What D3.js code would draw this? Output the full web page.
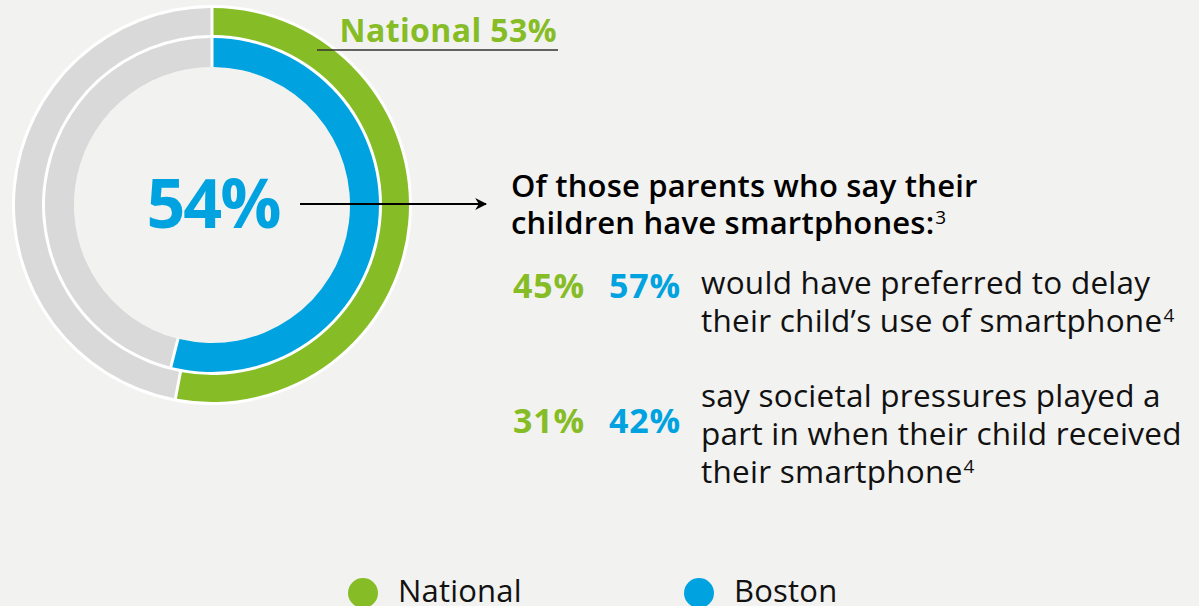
<!DOCTYPE html>
<html>
<head>
<meta charset="utf-8">
<script src="https://cdn.jsdelivr.net/npm/d3@7"></script>
<style>
  html, body { margin: 0; padding: 0; background: #f2f2f0; }
  svg { display: block; font-family: "Open Sans", sans-serif; }
</style>
</head>
<body>
<svg id="chart" width="1199" height="606"></svg>
<script>
// Share of parents whose children have smartphones
const series = ["National", "Boston"];
const shares = [53, 54];

// Follow-up findings among those parents
const statements = [
  ["would have preferred to delay", "their child\u2019s use of smartphone"],
  ["say societal pressures played a", "part in when their child received", "their smartphone"]
];
const nationalPct = [45, 31];
const bostonPct = [57, 42];
const footnotes = ["4", "4"];

const heading = ["Of those parents who say their", "children have smartphones:"];
const headingNote = "3";

const colorOf = { National: "#86bc25", Boston: "#00a3e0" };
const restColor = "#d9d9d9";

const svg = d3.select("#chart");
const cx = 212, cy = 205;

// Ring geometry: outer ring for National, inner ring for Boston
const rings = {
  National: { inner: 170, outer: 197 },
  Boston: { inner: 138, outer: 167 }
};

const g = svg.append("g").attr("transform", `translate(${cx},${cy})`);

// White backing that shows through the gaps and around the rings
g.append("path")
  .attr("d", d3.arc().innerRadius(138).outerRadius(200).startAngle(0).endAngle(2 * Math.PI)())
  .attr("fill", "#ffffff");

const pie = d3.pie().sort(null).value(d => d.v).padAngle(0.03);

series.forEach((name, i) => {
  const r = rings[name];
  const arc = d3.arc().innerRadius(r.inner).outerRadius(r.outer).padRadius(100);
  const parts = pie([{ key: name, v: shares[i] }, { key: "rest", v: 100 - shares[i] }]);
  g.selectAll(null).data(parts).enter().append("path")
    .attr("d", arc)
    .attr("fill", d => d.data.key === "rest" ? restColor : colorOf[name]);
});

// Centre value for Boston
svg.append("text")
  .attr("x", cx + 1).attr("y", 228)
  .attr("text-anchor", "middle")
  .attr("font-size", 68).attr("font-weight", 700)
  .attr("letter-spacing", -2)
  .attr("fill", colorOf.Boston)
  .text(shares[1] + "%");

// National label with underline
svg.append("text")
  .attr("x", 557).attr("y", 42)
  .attr("text-anchor", "end")
  .attr("font-size", 32).attr("font-weight", 700)
  .attr("letter-spacing", 0.4)
  .attr("fill", colorOf.National)
  .text(`${series[0]} ${shares[0]}%`);
svg.append("line")
  .attr("x1", 317).attr("x2", 558).attr("y1", 50).attr("y2", 50)
  .attr("stroke", "#333").attr("stroke-width", 1.5);

// Arrow from centre value to the findings
svg.append("defs").append("marker")
  .attr("id", "head").attr("viewBox", "0 0 10 10")
  .attr("refX", 9).attr("refY", 5)
  .attr("markerWidth", 6).attr("markerHeight", 6)
  .attr("markerUnits", "strokeWidth")
  .attr("orient", "auto")
  .append("path").attr("d", "M0,0 L10,5 L0,10 L3,5 Z").attr("fill", "#000");
svg.append("line")
  .attr("x1", 300).attr("x2", 486).attr("y1", 204).attr("y2", 204)
  .attr("stroke", "#000").attr("stroke-width", 2)
  .attr("marker-end", "url(#head)");

// Heading
const head = svg.append("text")
  .attr("font-size", 31).attr("font-weight", 600)
  .attr("letter-spacing", 0.2).attr("fill", "#000");
heading.forEach((line, i) => {
  head.append("tspan").attr("x", 511).attr("y", 197 + i * 37).text(line);
  if (i === heading.length - 1) {
    head.append("tspan").attr("dx", 1).attr("dy", -10).attr("font-size", 19).attr("font-weight", 400)
      .attr("letter-spacing", 0).text(headingNote);
  }
});

// Findings rows
const rowTop = [294, 407];
const pctBase = [298, 433];
statements.forEach((lines, i) => {
  svg.append("text")
    .attr("x", 513).attr("y", pctBase[i])
    .attr("font-size", 34).attr("font-weight", 700)
    .attr("letter-spacing", 0.8)
    .attr("fill", colorOf.National)
    .text(nationalPct[i] + "%");
  svg.append("text")
    .attr("x", 609).attr("y", pctBase[i])
    .attr("font-size", 34).attr("font-weight", 700)
    .attr("letter-spacing", 0.8)
    .attr("fill", colorOf.Boston)
    .text(bostonPct[i] + "%");
  const t = svg.append("text").attr("font-size", 31.5).attr("letter-spacing", 0.25).attr("fill", "#111");
  lines.forEach((line, j) => {
    t.append("tspan").attr("x", 701).attr("y", rowTop[i] + j * 38).text(line);
  });
  t.append("tspan").attr("dx", 1).attr("dy", -10).attr("font-size", 19).attr("letter-spacing", 0).text(footnotes[i]);
});

// Legend
const legendX = [363, 699];
series.forEach((name, i) => {
  svg.append("circle")
    .attr("cx", legendX[i]).attr("cy", 593).attr("r", 15)
    .attr("fill", colorOf[name]);
  svg.append("text")
    .attr("x", legendX[i] + 35).attr("y", 602)
    .attr("font-size", 31).attr("letter-spacing", 0.2).attr("fill", "#111")
    .text(name);
});
</script>
</body>
</html>
